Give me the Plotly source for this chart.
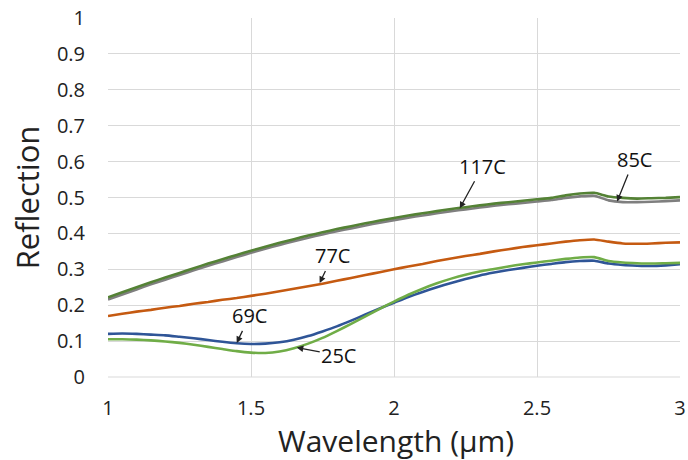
import plotly.graph_objects as go

wavelength = [1.00, 1.05, 1.10, 1.15, 1.20, 1.25, 1.30, 1.35, 1.40, 1.45, 1.50, 1.55, 1.60, 1.65, 1.70, 1.75, 1.80, 1.85, 1.90, 1.95,
              2.00, 2.05, 2.10, 2.15, 2.20, 2.25, 2.30, 2.35, 2.40, 2.45, 2.50, 2.55, 2.60, 2.65, 2.70, 2.75, 2.80, 2.85, 2.90, 2.95, 3.00]

r_117c = [0.222, 0.236, 0.250, 0.264, 0.277, 0.290, 0.303, 0.316, 0.328, 0.340, 0.352, 0.363, 0.374, 0.384, 0.394, 0.403, 0.412, 0.420, 0.428, 0.436,
          0.443, 0.450, 0.456, 0.462, 0.468, 0.473, 0.478, 0.483, 0.487, 0.491, 0.495, 0.499, 0.506, 0.511, 0.513, 0.503, 0.499, 0.497, 0.498, 0.499, 0.501]
r_85c = [0.216, 0.230, 0.244, 0.258, 0.271, 0.284, 0.297, 0.310, 0.322, 0.334, 0.346, 0.357, 0.368, 0.378, 0.388, 0.397, 0.406, 0.414, 0.422, 0.430,
         0.437, 0.444, 0.450, 0.456, 0.462, 0.467, 0.472, 0.477, 0.481, 0.485, 0.489, 0.493, 0.499, 0.503, 0.505, 0.492, 0.487, 0.487, 0.488, 0.490, 0.492]
r_77c = [0.170, 0.176, 0.182, 0.187, 0.193, 0.198, 0.204, 0.209, 0.215, 0.220, 0.226, 0.232, 0.239, 0.246, 0.253, 0.260, 0.268, 0.276, 0.284, 0.292,
         0.300, 0.308, 0.315, 0.323, 0.330, 0.337, 0.343, 0.350, 0.356, 0.362, 0.367, 0.372, 0.377, 0.381, 0.383, 0.377, 0.372, 0.371, 0.372, 0.374, 0.375]
r_69c = [0.120, 0.121, 0.120, 0.118, 0.116, 0.112, 0.108, 0.103, 0.098, 0.094, 0.092, 0.093, 0.097, 0.104, 0.114, 0.127, 0.141, 0.157, 0.174, 0.191,
         0.207, 0.223, 0.237, 0.250, 0.262, 0.273, 0.283, 0.291, 0.298, 0.304, 0.310, 0.315, 0.320, 0.323, 0.324, 0.316, 0.312, 0.310, 0.309, 0.311, 0.314]
r_25c = [0.105, 0.105, 0.104, 0.102, 0.099, 0.095, 0.090, 0.084, 0.078, 0.072, 0.068, 0.067, 0.071, 0.080, 0.093, 0.109, 0.128, 0.148, 0.169, 0.190,
         0.210, 0.229, 0.246, 0.261, 0.274, 0.285, 0.294, 0.301, 0.308, 0.314, 0.319, 0.324, 0.329, 0.333, 0.334, 0.323, 0.319, 0.317, 0.316, 0.317, 0.318]

series = [
    ("85C", r_85c, "#7f7f7f"),
    ("117C", r_117c, "#548235"),
    ("77C", r_77c, "#c55a11"),
    ("69C", r_69c, "#2f5597"),
    ("25C", r_25c, "#70ad47"),
]

labels = [
    # name, x, y, ax, ay
    ("117C", 2.23, 0.470, 23, -42),
    ("85C", 2.78, 0.489, 17, -42),
    ("77C", 1.74, 0.262, 13, -27),
    ("69C", 1.45, 0.095, 13, -27),
    ("25C", 1.66, 0.082, 42, 8),
]

x_title = "Wavelength (µm)"
y_title = "Reflection"

fig = go.Figure()
for name, vals, col in series:
    fig.add_trace(go.Scatter(x=wavelength, y=vals, mode="lines", name=name,
                             line=dict(color=col, width=2.6, shape="spline", smoothing=0.5)))

for name, x, y, ax, ay in labels:
    fig.add_annotation(x=x, y=y, text=name, showarrow=True, arrowhead=2, arrowsize=1,
                       arrowwidth=1.3, arrowcolor="#222222", ax=ax, ay=ay,
                       font=dict(size=20, color="#111111"))

# x-axis title drawn as a paper-anchored text so it sits clear of the tick labels
fig.add_annotation(text=x_title, xref="paper", yref="paper", x=0.504, y=-0.178,
                   xanchor="center", yanchor="middle", showarrow=False,
                   font=dict(size=30, color="#222222"))

font_family = "Open Sans, Liberation Sans, sans-serif"
fig.update_layout(
    width=688, height=460,
    margin=dict(l=108, r=8, t=18, b=83),
    paper_bgcolor="white", plot_bgcolor="white",
    showlegend=False,
    font=dict(family=font_family, color="#222222"),
    xaxis=dict(range=[1, 3], dtick=0.5, tick0=1, showgrid=True, gridcolor="#d9d9d9", gridwidth=1,
               zeroline=False, showline=False, ticks="", tickfont=dict(size=20),
               ticklabelstandoff=17, automargin=False),
    yaxis=dict(range=[0, 1], dtick=0.1, tick0=0, showgrid=True, gridcolor="#d9d9d9", gridwidth=1,
               zeroline=False, showline=False, ticks="", tickfont=dict(size=20),
               ticklabelstandoff=22, automargin=False,
               title=dict(text=y_title, font=dict(size=31), standoff=8)),
)
fig.add_shape(type="line", xref="paper", yref="paper", x0=0, x1=1, y0=0, y1=0,
              line=dict(color="#d9d9d9", width=1))

fig.write_html("out.html")
